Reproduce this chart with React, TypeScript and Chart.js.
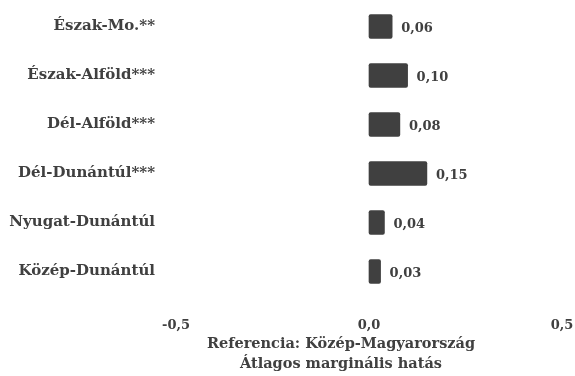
import React, { useEffect, useRef } from "react";
import { Chart, registerables } from "chart.js";

Chart.register(...registerables);

const categories = [
  "Észak-Mo.**",
  "Észak-Alföld***",
  "Dél-Alföld***",
  "Dél-Dunántúl***",
  "Nyugat-Dunántúl",
  "Közép-Dunántúl",
];
const values = [0.06, 0.1, 0.08, 0.15, 0.04, 0.03];
const xTicks = [-0.5, 0, 0.5];
const axisTitle = ["Referencia: Közép-Magyarország", "Átlagos marginális hatás"];

const TEXT = "#404040";
const FONT_FAMILY = "'DejaVu Serif', serif";

const fmt = (v: number, d: number) => v.toFixed(d).replace(".", ",");

const valueLabels = {
  id: "valueLabels",
  afterDatasetsDraw(chart: any) {
    const ctx = chart.ctx;
    const meta = chart.getDatasetMeta(0);
    ctx.save();
    ctx.font = `bold 13px ${FONT_FAMILY}`;
    ctx.fillStyle = TEXT;
    ctx.textAlign = "left";
    ctx.textBaseline = "middle";
    meta.data.forEach((bar: any, i: number) => {
      ctx.fillText(fmt(values[i], 2), bar.x + 9, bar.y + 2);
    });
    ctx.restore();
  },
};

const bottomTitle = {
  id: "bottomTitle",
  afterDraw(chart: any) {
    const ctx = chart.ctx;
    const area = chart.chartArea;
    const cx = (area.left + area.right) / 2 - 28;
    ctx.save();
    ctx.font = `bold 14.5px ${FONT_FAMILY}`;
    ctx.fillStyle = TEXT;
    ctx.textAlign = "center";
    ctx.textBaseline = "alphabetic";
    axisTitle.forEach((line, i) => {
      ctx.fillText(line, cx, area.bottom + 52 + i * 20);
    });
    ctx.restore();
  },
};

export default function App() {
  const ref = useRef<HTMLCanvasElement>(null);
  useEffect(() => {
    if (!ref.current) return;
    const chart = new Chart(ref.current, {
      type: "bar",
      data: {
        labels: categories,
        datasets: [
          {
            data: values,
            backgroundColor: "#404040",
            borderRadius: 2,
            borderSkipped: false,
            barThickness: 24,
          },
        ],
      },
      options: {
        indexAxis: "y",
        animation: false,
        responsive: false,
        maintainAspectRatio: false,
        layout: { padding: { top: 2, right: 13, left: 0, bottom: 0 } },
        plugins: { legend: { display: false }, tooltip: { enabled: false } },
        scales: {
          x: {
            min: -0.5,
            max: 0.5,
            afterBuildTicks: (scale: any) => {
              scale.ticks = xTicks.map((v) => ({ value: v }));
            },
            afterFit: (scale: any) => {
              scale.height = 80;
              scale.paddingLeft = 0;
              scale.paddingRight = 0;
            },
            grid: { display: false, drawTicks: false },
            border: { display: false },
            ticks: {
              padding: 22,
              color: TEXT,
              font: { family: FONT_FAMILY, weight: "bold", size: 13 },
              callback: (v: any) => fmt(Number(v), 1),
              maxRotation: 0,
            },
            title: { display: false },
          },
          y: {
            afterFit: (scale: any) => {
              scale.width = 176;
              scale.paddingTop = 0;
              scale.paddingBottom = 0;
            },
            grid: { display: false, drawTicks: false },
            border: { display: false },
            ticks: {
              padding: 21,
              color: TEXT,
              font: { family: FONT_FAMILY, weight: "bold", size: 15 },
            },
          },
        },
      },
      plugins: [valueLabels, bottomTitle],
    });
    return () => chart.destroy();
  }, []);
  return (
    <div style={{ position: "fixed", left: 0, top: 0, width: 575, height: 376, background: "#fff" }}>
      <canvas ref={ref} width={575} height={376} style={{ width: 575, height: 376 }} />
    </div>
  );
}
